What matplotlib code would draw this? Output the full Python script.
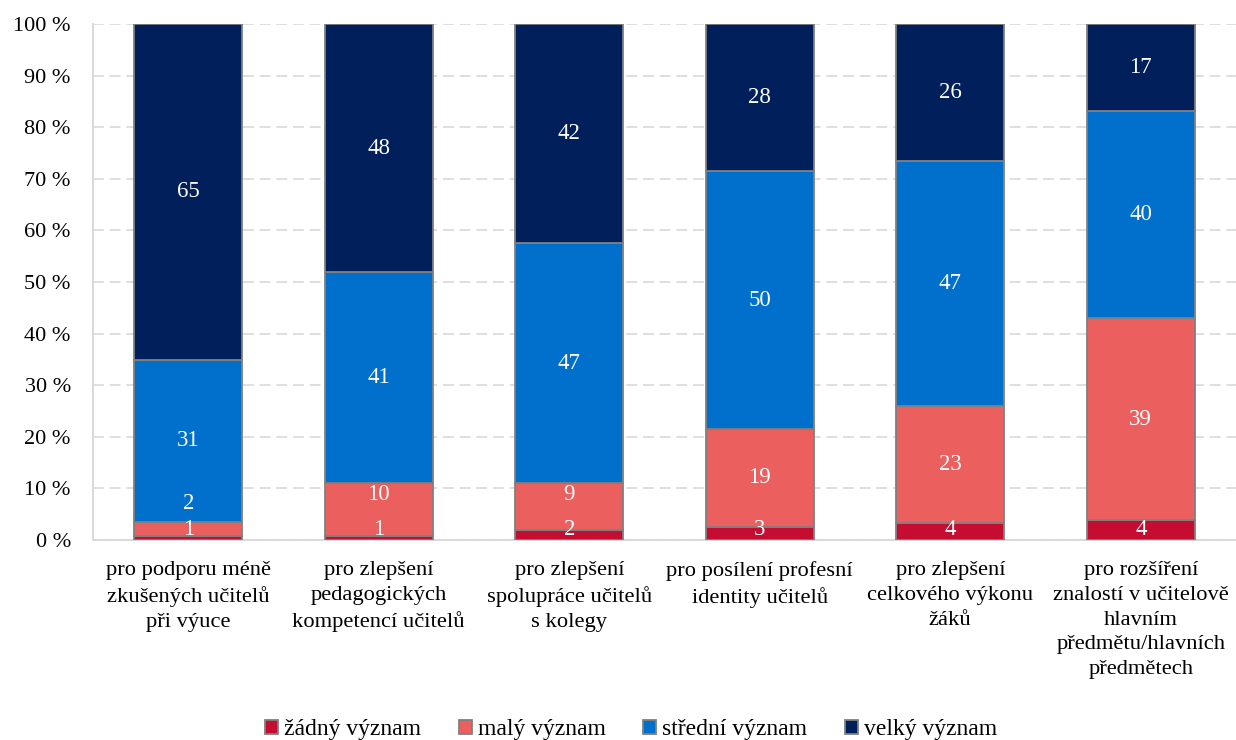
import matplotlib
matplotlib.use("Agg")
import matplotlib.pyplot as plt
import numpy as np

categories = [
    "pro podporu méně\nzkušených učitelů\npři výuce",
    "pro zlepšení\npedagogických\nkompetencí učitelů",
    "pro zlepšení\nspolupráce učitelů\ns kolegy",
    "pro posílení profesní\nidentity učitelů",
    "pro zlepšení\ncelkového výkonu\nžáků",
    "pro rozšíření\nznalostí v učitelově\nhlavním\npředmětu/hlavních\npředmětech",
]
series_names = ["žádný význam", "malý význam", "střední význam", "velký význam"]
zadny = [0.8, 0.8, 1.9, 2.6, 3.2, 3.8]
maly = [2.7, 10.2, 9.1, 18.9, 22.8, 39.2]
stredni = [31.4, 40.9, 46.5, 50.0, 47.5, 40.1]
velky = [65.1, 48.1, 42.5, 28.5, 26.5, 16.9]
labels_text = [
    ["1", "1", "2", "3", "4", "4"],
    ["2", "10", "9", "19", "23", "39"],
    ["31", "41", "47", "50", "47", "40"],
    ["65", "48", "42", "28", "26", "17"],
]
colors = ["#C50D31", "#EC5F5F", "#0070CC", "#001F5B"]

plt.rcParams['font.family'] = ['Liberation Serif', 'DejaVu Serif']

fig = plt.figure(figsize=(12.36, 7.40), dpi=100)
ax = fig.add_axes([0.0753, 0.2703, 0.9247, 0.6973])

data = np.array([zadny, maly, stredni, velky])
x = np.arange(len(categories))
bottom = np.zeros(len(categories))
bw = 0.567
bottoms = []
for i, vals in enumerate(data):
    ax.bar(x, vals, bw, bottom=bottom, color=colors[i], edgecolor="#808080",
           linewidth=1.3, label=series_names[i], zorder=3)
    bottoms.append(bottom.copy())
    bottom = bottom + vals

# label placement: segment center; if it would overlap the label below,
# move to the inside end of the segment, or above the previous label.
gap = 4.9
for j in range(len(categories)):
    prev = None
    for i in range(len(data)):
        b = bottoms[i][j]
        t = b + data[i][j]
        y = (b + t) / 2
        if prev is None:
            y = max(y, 2.1)
        elif y < prev + gap:
            y = max(t - 2.1, prev + gap)
        prev = y
        ax.text(x[j], y, labels_text[i][j], ha="center", va="center",
                color="white", fontsize=16.5, zorder=4)

ax.set_xlim(-0.5, len(categories) - 0.5)
ax.set_ylim(0, 100)
ax.set_yticks(np.arange(0, 101, 10))
ax.set_yticklabels([f"{v} %" for v in range(0, 101, 10)], fontsize=16)
ax.set_xticks(x)
ax.set_xticklabels(categories, fontsize=16.2, linespacing=1.42)
ax.tick_params(axis="both", length=0)
ax.tick_params(axis="y", pad=16)
ax.tick_params(axis="x", pad=15)
ax.yaxis.grid(True, color="#D9D9D9", linestyle=(0, (6.5, 3.5)), linewidth=1.2, zorder=0)
for s in ["top", "right"]:
    ax.spines[s].set_visible(False)
for s in ["left", "bottom"]:
    ax.spines[s].set_color("#D9D9D9")
    ax.spines[s].set_linewidth(1.4)

leg = fig.legend(loc="center", bbox_to_anchor=(631 / 1236, 1 - 730 / 740), ncol=4,
                 frameon=False, fontsize=17, handlelength=0.55, handleheight=0.55,
                 handletextpad=0.25, columnspacing=1.6, borderpad=0)

fig.savefig("out.png", dpi=100)
